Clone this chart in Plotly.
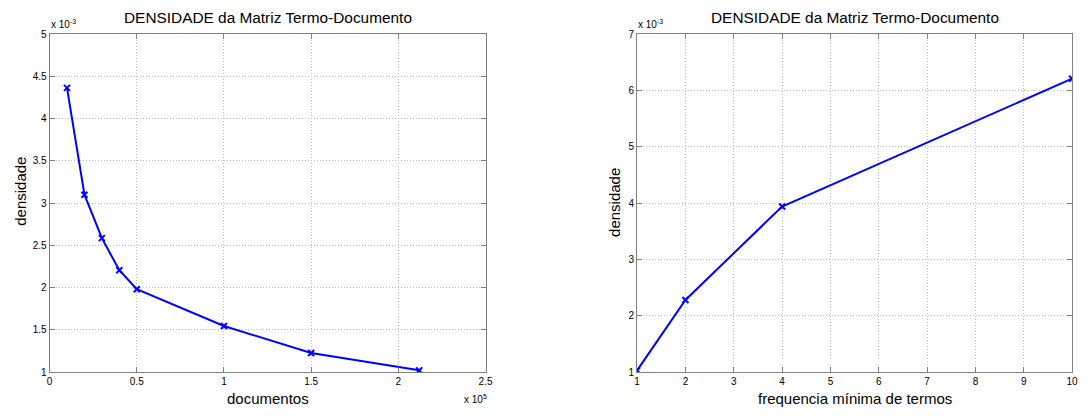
import plotly.graph_objects as go

# Data (raw values)
documentos = [10000, 20000, 30000, 40000, 50000, 100000, 150000, 212000]
densidade_docs = [4.365e-3, 3.10e-3, 2.585e-3, 2.205e-3, 1.98e-3, 1.545e-3, 1.225e-3, 1.02e-3]

freq_min = [1, 2, 4, 10]
densidade_freq = [1.03e-3, 2.28e-3, 3.94e-3, 6.21e-3]

# Tick labels
x1_tickvals = [0, 50000, 100000, 150000, 200000, 250000]
x1_ticktext = ["0", "0.5", "1", "1.5", "2", "2.5"]
y1_tickvals = [1e-3, 1.5e-3, 2e-3, 2.5e-3, 3e-3, 3.5e-3, 4e-3, 4.5e-3, 5e-3]
y1_ticktext = ["1", "1.5", "2", "2.5", "3", "3.5", "4", "4.5", "5"]
x2_tickvals = list(range(1, 11))
x2_ticktext = [str(v) for v in x2_tickvals]
y2_tickvals = [1e-3, 2e-3, 3e-3, 4e-3, 5e-3, 6e-3, 7e-3]
y2_ticktext = ["1", "2", "3", "4", "5", "6", "7"]

title_text = "DENSIDADE da Matriz Termo-Documento"
FONT = "Liberation Sans, Arial, Helvetica, sans-serif"
BLUE = "#0000FF"
W, H = 1088, 416

fig = go.Figure()
fig.add_trace(go.Scatter(x=documentos, y=densidade_docs, mode="lines+markers",
                         line=dict(color=BLUE, width=2),
                         marker=dict(symbol="x-thin", size=6, color=BLUE,
                                     line=dict(color=BLUE, width=2)),
                         xaxis="x", yaxis="y", showlegend=False))
fig.add_trace(go.Scatter(x=freq_min, y=densidade_freq, mode="lines+markers",
                         line=dict(color=BLUE, width=2),
                         marker=dict(symbol="x-thin", size=6, color=BLUE,
                                     line=dict(color=BLUE, width=2)),
                         xaxis="x2", yaxis="y2", showlegend=False))

# plot geometry in pixels
L1, R1 = 47, 487
L2, R2 = 640, 1079
T, B = 30, 377

def px(x):
    return x / W

def py(y):
    return 1 - y / H

axis_common = dict(
    showline=True, linecolor="#808080", linewidth=1, mirror="ticks",
    ticks="inside", ticklen=5, tickcolor="#808080",
    showgrid=True, gridcolor="#bdbdbd", griddash="1px,2px", gridwidth=1,
    zeroline=False, tickfont=dict(family=FONT, size=10, color="black"),
    tickmode="array",
)

fig.update_layout(
    width=W, height=H,
    margin=dict(l=0, r=0, t=0, b=0),
    paper_bgcolor="white", plot_bgcolor="white",
    font=dict(family=FONT, color="black"),
    xaxis=dict(domain=[px(L1), px(R1)], range=[0, 250000],
               tickvals=x1_tickvals, ticktext=x1_ticktext, anchor="y", **axis_common),
    yaxis=dict(domain=[py(B), py(T)], range=[1e-3, 5e-3],
               tickvals=y1_tickvals, ticktext=y1_ticktext, anchor="x", **axis_common),
    xaxis2=dict(domain=[px(L2), px(R2)], range=[1, 10],
                tickvals=x2_tickvals, ticktext=x2_ticktext, anchor="y2", **axis_common),
    yaxis2=dict(domain=[py(B), py(T)], range=[1e-3, 7e-3],
                tickvals=y2_tickvals, ticktext=y2_ticktext, anchor="x2", **axis_common),
)

ann = []
for L, R in ((L1, R1), (L2, R2)):
    ann.append(dict(text=title_text, x=px((L + R) / 2), y=py(13), xref="paper", yref="paper",
                    showarrow=False, font=dict(size=15.4, family=FONT), xanchor="center", yanchor="middle"))
ann.append(dict(text="documentos", x=px((L1 + R1) / 2), y=py(404), xref="paper", yref="paper",
                showarrow=False, font=dict(size=15, family=FONT), xanchor="center", yanchor="middle"))
ann.append(dict(text="frequencia mínima de termos", x=px((L2 + R2) / 2), y=py(404), xref="paper", yref="paper",
                showarrow=False, font=dict(size=15, family=FONT), xanchor="center", yanchor="middle"))
ann.append(dict(text="densidade", x=px(18), y=py(191), xref="paper", yref="paper", textangle=-90,
                showarrow=False, font=dict(size=15, family=FONT), xanchor="center", yanchor="middle"))
ann.append(dict(text="densidade", x=px(617), y=py(203), xref="paper", yref="paper", textangle=-90,
                showarrow=False, font=dict(size=15, family=FONT), xanchor="center", yanchor="middle"))
ann.append(dict(text="x 10<sup>-3</sup>", x=px(46), y=py(20), xref="paper", yref="paper",
                showarrow=False, font=dict(size=10, family=FONT), xanchor="left", yanchor="middle"))
ann.append(dict(text="x 10<sup>-3</sup>", x=px(639), y=py(20), xref="paper", yref="paper",
                showarrow=False, font=dict(size=10, family=FONT), xanchor="left", yanchor="middle"))
ann.append(dict(text="x 10<sup>5</sup>", x=px(463), y=py(405), xref="paper", yref="paper",
                showarrow=False, font=dict(size=10, family=FONT), xanchor="left", yanchor="middle"))
fig.update_layout(annotations=ann)

fig.write_html("out.html")

# remove the default page margin so the figure sits at the window's origin
with open("out.html", "r", encoding="utf-8") as f:
    html = f.read()
html = html.replace("<head>", "<head><style>html,body{margin:0;padding:0;overflow:hidden;}</style>", 1)
with open("out.html", "w", encoding="utf-8") as f:
    f.write(html)
